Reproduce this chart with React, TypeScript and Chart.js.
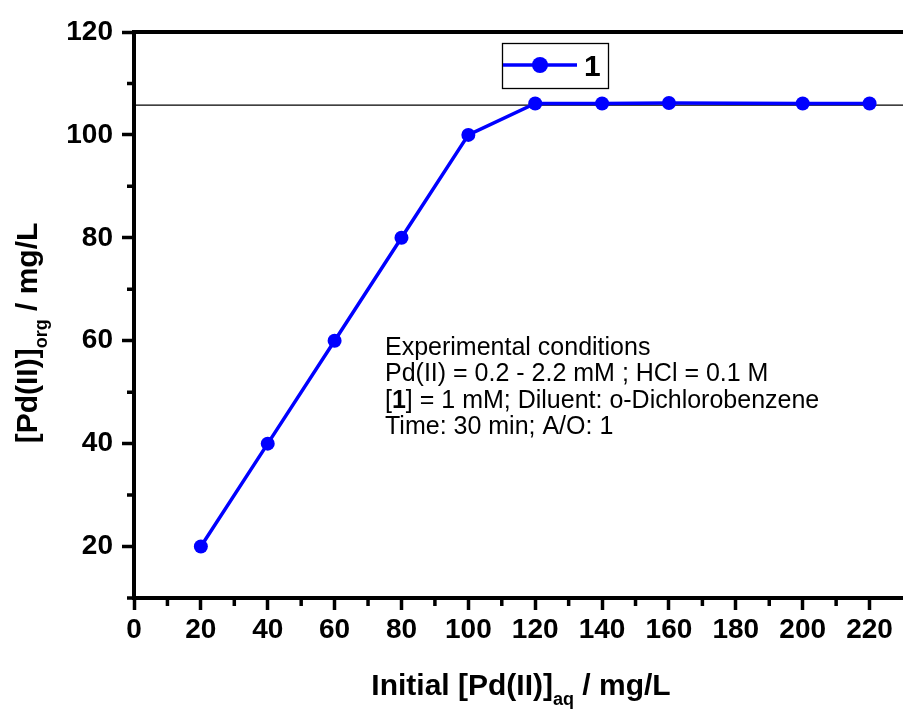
import React, { useEffect, useRef } from 'react';
import { Chart, registerables } from 'chart.js';

Chart.register(...registerables);

// ---- data ----
const xValues = [20, 40, 60, 80, 100, 120, 140, 160, 200, 220];
const yValues = [20, 40, 60, 80, 100, 106.1, 106.1, 106.2, 106.1, 106.1];
const refLineX = [0, 230];
const refLineY = [105.8, 105.8];

const xMajorTicks = [0, 20, 40, 60, 80, 100, 120, 140, 160, 180, 200, 220];
const xMinorTicks = [10, 30, 50, 70, 90, 110, 130, 150, 170, 190, 210];
const yMajorTicks = [20, 40, 60, 80, 100, 120];
const yMinorTicks = [10, 30, 50, 70, 90, 110];
const xRange = [0, 230];
const yRange = [10, 120];

const seriesLabel = '1';
const xTitleParts = ['Initial [Pd(II)]', 'aq', ' / mg/L'];
const yTitleParts = ['[Pd(II)]', 'org', ' / mg/L'];
// each note line: list of [text, bold]
const noteLines: [string, boolean][][] = [
  [['Experimental conditions', false]],
  [['Pd(II) = 0.2 - 2.2 mM ; HCl = 0.1 M', false]],
  [['[', false], ['1', true], ['] = 1 mM; Diluent: o-Dichlorobenzene', false]],
  [['Time: 30 min; A/O: 1', false]],
];

const FONT = "'Liberation Sans', Arial, sans-serif";
const BLUE = '#0000ff';

function drawSubTitle(ctx: CanvasRenderingContext2D, parts: string[], cx: number, baseY: number) {
  const main = `bold 30px ${FONT}`;
  const sub = `bold 18px ${FONT}`;
  ctx.font = main;
  const w0 = ctx.measureText(parts[0]).width;
  const w2 = ctx.measureText(parts[2]).width;
  ctx.font = sub;
  const w1 = ctx.measureText(parts[1]).width;
  const total = w0 + w1 + w2;
  let x = cx - total / 2;
  ctx.textAlign = 'left';
  ctx.textBaseline = 'alphabetic';
  ctx.fillStyle = '#000';
  ctx.font = main;
  ctx.fillText(parts[0], x, baseY);
  x += w0;
  ctx.font = sub;
  ctx.fillText(parts[1], x, baseY + 10);
  x += w1;
  ctx.font = main;
  ctx.fillText(parts[2], x, baseY);
}

const decorPlugin = {
  id: 'decor',
  afterDraw(chart: any) {
    const ctx: CanvasRenderingContext2D = chart.ctx;
    const { left, right, top, bottom } = chart.chartArea;
    const xs = chart.scales.x;
    const ys = chart.scales.y;
    ctx.save();
    // top frame line
    ctx.strokeStyle = '#000';
    ctx.lineWidth = 4;
    ctx.beginPath();
    ctx.moveTo(left - 2, top);
    ctx.lineTo(right, top);
    ctx.stroke();
    // minor ticks
    ctx.lineWidth = 3.5;
    ctx.beginPath();
    xMinorTicks.forEach((v) => {
      const px = xs.getPixelForValue(v);
      ctx.moveTo(px, bottom);
      ctx.lineTo(px, bottom + 8);
    });
    yMinorTicks.forEach((v) => {
      const py = ys.getPixelForValue(v);
      ctx.moveTo(left, py);
      ctx.lineTo(left - 7, py);
    });
    ctx.stroke();

    // legend
    ctx.lineWidth = 1.3;
    ctx.strokeStyle = '#000';
    ctx.strokeRect(502.5, 43.5, 106, 45);
    ctx.strokeStyle = BLUE;
    ctx.lineWidth = 3.5;
    ctx.beginPath();
    ctx.moveTo(503, 65);
    ctx.lineTo(577, 65);
    ctx.stroke();
    ctx.fillStyle = BLUE;
    ctx.beginPath();
    ctx.arc(540, 65, 8, 0, Math.PI * 2);
    ctx.fill();
    ctx.fillStyle = '#000';
    ctx.font = `bold 30px ${FONT}`;
    ctx.textAlign = 'left';
    ctx.textBaseline = 'alphabetic';
    ctx.fillText(seriesLabel, 584, 76);

    // notes
    let by = 355;
    noteLines.forEach((line) => {
      let x = 385;
      line.forEach(([t, b]) => {
        ctx.font = `${b ? 'bold ' : ''}25px ${FONT}`;
        ctx.fillText(t, x, by);
        x += ctx.measureText(t).width;
      });
      by += 26.3;
    });

    // axis titles
    drawSubTitle(ctx, xTitleParts, 521, 695);
    ctx.save();
    ctx.translate(37, 333);
    ctx.rotate(-Math.PI / 2);
    drawSubTitle(ctx, yTitleParts, 0, 0);
    ctx.restore();

    ctx.restore();
  },
};

export default function App() {
  const ref = useRef<HTMLCanvasElement>(null);
  useEffect(() => {
    if (!ref.current) return;
    const tickFont = { family: FONT, size: 28, weight: 'bold' as const };
    const chart = new Chart(ref.current, {
      type: 'scatter',
      data: {
        datasets: [
          {
            label: 'ref',
            data: refLineX.map((x, i) => ({ x, y: refLineY[i] })),
            showLine: true,
            borderColor: '#000',
            borderWidth: 1.3,
            pointRadius: 0,
            order: 2,
          },
          {
            label: seriesLabel,
            data: xValues.map((x, i) => ({ x, y: yValues[i] })),
            showLine: true,
            borderColor: BLUE,
            backgroundColor: BLUE,
            borderWidth: 3.5,
            pointRadius: 7,
            pointBorderWidth: 0,
            pointBackgroundColor: BLUE,
            order: 1,
          },
        ],
      },
      options: {
        responsive: false,
        animation: false,
        layout: { autoPadding: false, padding: { top: 32, right: 0, left: 0, bottom: 0 } },
        plugins: {
          legend: { display: false },
          tooltip: { enabled: false },
        },
        scales: {
          x: {
            type: 'linear',
            min: xRange[0],
            max: xRange[1],
            afterFit: (s: any) => {
              s.height = 113;
              s.paddingLeft = 0;
              s.paddingRight = 0;
            },
            afterBuildTicks: (s: any) => {
              s.ticks = xMajorTicks.map((v) => ({ value: v }));
            },
            ticks: {
              font: tickFont,
              color: '#000',
              padding: 3,
              maxRotation: 0,
              autoSkip: false,
            },
            grid: {
              drawOnChartArea: false,
              drawTicks: true,
              tickLength: 12,
              tickWidth: 3.5,
              tickColor: '#000',
            },
            border: { display: true, color: '#000', width: 4 },
          },
          y: {
            type: 'linear',
            min: yRange[0],
            max: yRange[1],
            afterFit: (s: any) => {
              s.width = 134;
              s.paddingTop = 0;
              s.paddingBottom = 0;
            },
            afterBuildTicks: (s: any) => {
              s.ticks = yMajorTicks.map((v) => ({ value: v }));
            },
            ticks: {
              font: tickFont,
              color: '#000',
              padding: 9,
              autoSkip: false,
            },
            grid: {
              drawOnChartArea: false,
              drawTicks: true,
              tickLength: 12,
              tickWidth: 3.5,
              tickColor: '#000',
            },
            border: { display: true, color: '#000', width: 4 },
          },
        },
      },
      plugins: [decorPlugin],
    });
    return () => chart.destroy();
  }, []);
  return (
    <canvas
      ref={ref}
      width={903}
      height={711}
      style={{ position: 'fixed', left: 0, top: 0, display: 'block', background: '#fff' }}
    />
  );
}
